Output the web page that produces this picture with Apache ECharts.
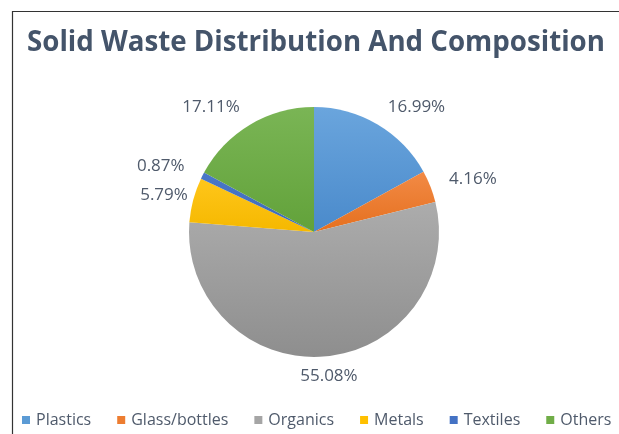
<!DOCTYPE html>
<html>
<head>
<meta charset="utf-8">
<script src="https://cdn.jsdelivr.net/npm/echarts@6/dist/echarts.min.js"></script>
<style>
html,body{margin:0;padding:0;background:#fff;}
#chart{width:619px;height:434px;}
</style>
</head>
<body>
<div id="chart"></div>
<script>
const titleText = 'Solid Waste Distribution And Composition';
const categories = ['Plastics', 'Glass/bottles', 'Organics', 'Metals', 'Textiles', 'Others'];
const values = [16.99, 4.16, 55.08, 5.79, 0.87, 17.11];
const colorsTop = ['#6aa5dd', '#f28a45', '#acacac', '#ffc61a', '#4a78c9', '#7ab555'];
const colorsBottom = ['#4a8acb', '#e5701f', '#8e8e8e', '#f5b800', '#3d68b8', '#62a23a'];
const legendColors = ['#5B9BD5', '#ED7D31', '#A5A5A5', '#FFC000', '#4472C4', '#70AD47'];

const textColor = '#4f5a6b';
const chart = echarts.init(document.getElementById('chart'));

const data = categories.map((name, i) => ({
  name: name,
  value: values[i],
  itemStyle: {
    color: {
      type: 'linear', x: 0, y: 0, x2: 0, y2: 1,
      colorStops: [{offset: 0, color: colorsTop[i]}, {offset: 1, color: colorsBottom[i]}]
    }
  }
}));

chart.setOption({
  animation: false,
  color: legendColors,
  title: {
    text: titleText,
    left: 27,
    top: 29,
    padding: 0,
    textStyle: {
      fontFamily: 'Open Sans',
      fontWeight: 'bold',
      fontSize: 27.7,
      color: '#44546A'
    }
  },
  legend: {
    data: categories.map((c, i) => ({name: c, itemStyle: {color: legendColors[i]}})),
    left: 22,
    top: 412,
    padding: 0,
    itemWidth: 8,
    itemHeight: 8,
    itemGap: 26,
    icon: 'rect',
    textStyle: {
      fontFamily: 'Open Sans',
      fontSize: 16,
      color: textColor,
      padding: [0, 0, 0, 1]
    }
  },
  graphic: [{
    type: 'polyline',
    silent: true,
    shape: {points: [[12.5, 434], [12.5, 11.5], [619, 11.5]]},
    style: {stroke: '#333', lineWidth: 1.2, fill: null}
  }],
  series: [{
    type: 'pie',
    center: [314, 232],
    radius: 125,
    startAngle: 90,
    clockwise: true,
    avoidLabelOverlap: false,
    data: data,
    itemStyle: {borderWidth: 0},
    label: {
      show: true,
      position: 'outside',
      formatter: p => p.value.toFixed(2) + '%',
      fontFamily: 'Open Sans',
      fontSize: 17,
      color: textColor,
      distanceToLabelLine: 0
    },
    labelLine: {show: false, length: 20, length2: 0},
    labelLayout: function (p) {
      if (p.dataIndex === 2) {
        return {dx: -p.labelRect.width / 2 + 3};
      }
      if (p.dataIndex === 3) {
        return {dx: 14};
      }
      return {};
    }
  }]
});
</script>
</body>
</html>
